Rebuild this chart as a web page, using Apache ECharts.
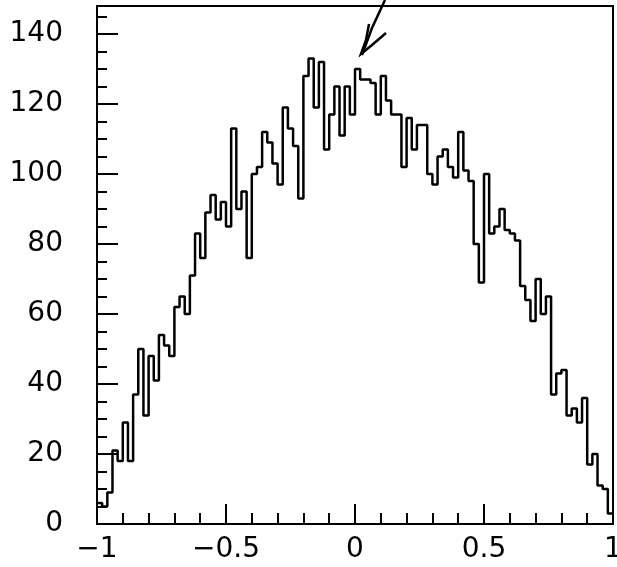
<!DOCTYPE html>
<html>
<head>
<meta charset="utf-8">
<script src="https://cdn.jsdelivr.net/npm/echarts@6/dist/echarts.min.js"></script>
<style>
html,body{margin:0;padding:0;background:#fff;}
#chart{width:617px;height:567px;}
</style>
</head>
<body>
<div id="chart"></div>
<script>
// Histogram: 100 bins from -1 to 1
var xMin = -1, xMax = 1;
var counts = [
  6, 5, 9, 21, 18, 29, 18, 37, 50, 31,
  48, 41, 54, 51, 48, 62, 65, 60, 71, 83,
  76, 89, 94, 87, 92, 85, 113, 90, 95, 76,
  100, 102, 112, 109, 103, 97, 119, 113, 108, 93,
  128, 133, 119, 132, 107, 117, 125, 111, 125, 117,
  130, 127, 127, 126, 117, 128, 121, 117, 117, 102,
  116, 107, 114, 114, 100, 97, 105, 107, 102, 99,
  112, 101, 98, 80, 69, 100, 83, 85, 90, 84,
  83, 81, 68, 64, 58, 70, 60, 65, 37, 43,
  44, 31, 33, 29, 36, 17, 20, 11, 10, 3
];
var xTickLabels = [-1, -0.5, 0, 0.5, 1];
var yMajorTicks = [0, 20, 40, 60, 80, 100, 120, 140];
var yMinorTicks = [5, 10, 15, 25, 30, 35, 45, 50, 55, 65, 70, 75, 85, 90, 95, 105, 110, 115, 125, 130, 135, 145];
var yMax = 148;

var nBins = counts.length;
var binW = (xMax - xMin) / nBins;
var stepData = counts.map(function (c, i) { return [xMin + i * binW, c]; });
stepData.push([xMax, counts[nBins - 1]]);

var FONT = 'DejaVu Sans';
var chart = echarts.init(document.getElementById('chart'), null, {renderer: 'canvas'});
chart.setOption({
  animation: false,
  backgroundColor: '#fff',
  grid: {left: 97, right: 4, top: 6, bottom: 43, show: true, borderColor: '#000', borderWidth: 2,
         backgroundColor: 'transparent', containLabel: false, outerBoundsMode: 'none'},
  xAxis: {
    type: 'value', min: xMin, max: xMax, interval: 0.5,
    axisLine: {show: true, onZero: false, lineStyle: {color: '#000', width: 2}},
    axisTick: {show: true, inside: true, length: 20, customValues: xTickLabels, lineStyle: {color: '#000', width: 2}},
    minorTick: {show: true, splitNumber: 5, length: 11, lineStyle: {color: '#000', width: 2}},
    splitLine: {show: false},
    axisLabel: {
      color: '#000', fontFamily: FONT, fontSize: 28, margin: 12,
      customValues: xTickLabels,
      showMinLabel: true, showMaxLabel: true,
      formatter: function (v) { return String(v).replace('-', '\u2212'); }
    }
  },
  yAxis: [{
    type: 'value', min: 0, max: yMax,
    axisLine: {show: true, onZero: false, lineStyle: {color: '#000', width: 2}},
    axisTick: {show: true, inside: true, length: 21, customValues: yMajorTicks, lineStyle: {color: '#000', width: 2}},
    splitLine: {show: false},
    axisLabel: {color: '#000', fontFamily: FONT, fontSize: 28, margin: 34, customValues: yMajorTicks}
  }, {
    type: 'value', min: 0, max: yMax, position: 'left',
    axisLine: {show: false, onZero: false},
    axisTick: {show: true, inside: true, length: 10, customValues: yMinorTicks, lineStyle: {color: '#000', width: 2}},
    splitLine: {show: false},
    axisLabel: {show: false}
  }],
  series: [{
    type: 'line', step: 'end', data: stepData, symbol: 'none',
    lineStyle: {color: '#000', width: 2.5}, clip: true, z: 3
  }],
  graphic: [
    {type: 'polyline', shape: {points: [[385, 0], [372, 28], [362, 55]]}, style: {stroke: '#000', lineWidth: 2.5, fill: null}, z: 100},
    {type: 'polyline', shape: {points: [[369, 24], [366, 40], [361, 54], [372, 45], [386, 33]]}, style: {stroke: '#000', lineWidth: 2.5, fill: null}, z: 100}
  ]
});
</script>
</body>
</html>
